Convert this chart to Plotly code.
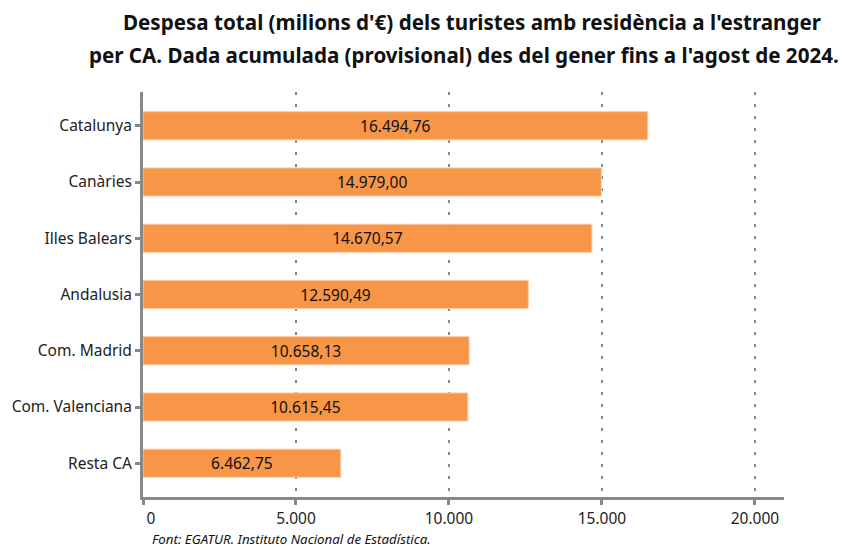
import plotly.graph_objects as go

categories = ["Catalunya", "Canàries", "Illes Balears", "Andalusia", "Com. Madrid", "Com. Valenciana", "Resta CA"]
values = [16494.76, 14979.00, 14670.57, 12590.49, 10658.13, 10615.45, 6462.75]
tick_vals = [0, 5000, 10000, 15000, 20000]
tick_text = ["\u00a0\u00a0\u00a0\u00a00", "5.000", "10.000", "15.000", "20.000"]

fig = go.Figure(go.Bar(
    x=values, y=categories, orientation="h",
    marker=dict(color="#F79646", line=dict(color="#FBC9A3", width=1)),
    width=0.5,
    text=values, texttemplate="%{x:,.2f}",
    textposition="inside", insidetextanchor="middle",
    textfont=dict(family="Noto Sans", size=15.5, color="#111111"),
    cliponaxis=False,
))

title_font = dict(family="Noto Sans", size=20.6, color="#111111")
fig.update_layout(
    width=841, height=540,
    paper_bgcolor="white", plot_bgcolor="white",
    separators=",.",
    margin=dict(l=135, r=65, t=84, b=51),
    font=dict(family="Noto Sans", size=15.5, color="#222222"),
    showlegend=False,
    xaxis=dict(
        range=[0, 20950], tickvals=tick_vals, ticktext=tick_text,
        showgrid=True, gridcolor="#888888", griddash="3px,9px", gridwidth=2,
        showline=True, linecolor="#888888", linewidth=3,
        ticks="outside", ticklen=5, tickwidth=3, tickcolor="#888888",
        zeroline=False, tickfont=dict(size=15.5, color="#222222"),
        automargin=False,
    ),
    yaxis=dict(
        autorange=False, range=[6.6, -0.6],
        showline=True, linecolor="#888888", linewidth=3,
        ticks="outside", ticklen=5, tickwidth=3, tickcolor="#888888",
        showgrid=False, tickfont=dict(size=15.5, color="#222222"),
        automargin=False,
    ),
    annotations=[
        dict(text="<b>Despesa total (milions d'€) dels turistes amb residència a l'estranger</b>",
             xref="paper", yref="paper", x=0.5133, y=1.1728, xanchor="center", yanchor="middle",
             showarrow=False, font=title_font),
        dict(text="<b>per CA. Dada acumulada (provisional) des del gener fins a l'agost de 2024.</b>",
             xref="paper", yref="paper", x=0.5008, y=1.0914, xanchor="center", yanchor="middle",
             showarrow=False, font=title_font),
        dict(text="<i>Font: EGATUR. Instituto Nacional de Estadística.</i>",
             xref="paper", yref="paper", x=0.0109, y=-0.1045, xanchor="left", yanchor="middle",
             showarrow=False, font=dict(family="Noto Sans", size=13.3, color="#111111")),
    ],
)

fig.write_html("out.html")
